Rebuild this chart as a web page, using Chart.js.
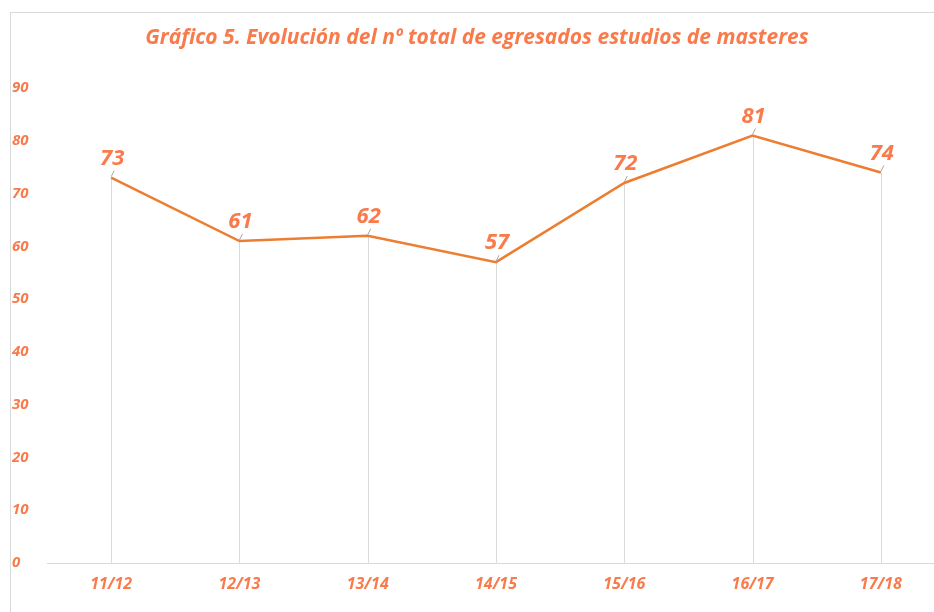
<!DOCTYPE html>
<html>
<head>
<meta charset="utf-8">
<script src="https://cdn.jsdelivr.net/npm/chart.js@4/dist/chart.umd.min.js"></script>
<style>
  html, body { margin: 0; padding: 0; background: #fff; overflow: hidden; }
  #wrap { position: relative; width: 934px; height: 612px; overflow: hidden; }
  #frame { position: absolute; left: 10px; top: 12px; width: 960px; height: 640px; border: 1px solid #d9d9d9; box-sizing: border-box; }
  #c { position: absolute; left: 0; top: 0; }
</style>
</head>
<body>
<div id="wrap">
  <div id="frame"></div>
  <canvas id="c" width="950" height="612"></canvas>
</div>
<script>
var titleText = 'Gráfico 5. Evolución del nº total de egresados estudios de masteres';
var cursos = ['11/12', '12/13', '13/14', '14/15', '15/16', '16/17', '17/18'];
var egresados = [73, 61, 62, 57, 72, 81, 74];
var yMin = 0;
var yMax = 90;
var yStep = 10;

var lineColor = '#ED7D31';
var textColor = '#F97A4A';
var greyLine = '#d9d9d9';
var fontFam = '"Open Sans", "DejaVu Sans", sans-serif';

// lineas verticales desde cada punto hasta el eje
var dropLines = {
  id: 'dropLines',
  beforeDatasetsDraw: function(chart) {
    var ctx = chart.ctx;
    var yScale = chart.scales.y;
    var base = yScale.getPixelForValue(0);
    var meta = chart.getDatasetMeta(0);
    ctx.save();
    ctx.strokeStyle = greyLine;
    ctx.lineWidth = 1;
    meta.data.forEach(function(p) {
      var x = Math.round(p.x) + 0.5;
      ctx.beginPath();
      ctx.moveTo(x, p.y);
      ctx.lineTo(x, base);
      ctx.stroke();
    });
    ctx.restore();
  }
};

// etiquetas de datos con su pequena linea guia
var dataLabels = {
  id: 'dataLabels',
  afterDatasetsDraw: function(chart) {
    var ctx = chart.ctx;
    var meta = chart.getDatasetMeta(0);
    ctx.save();
    meta.data.forEach(function(p, i) {
      ctx.strokeStyle = '#a6a6a6';
      ctx.lineWidth = 1;
      ctx.beginPath();
      ctx.moveTo(p.x, p.y - 1);
      ctx.lineTo(p.x + 3, p.y - 7);
      ctx.stroke();
      ctx.fillStyle = textColor;
      ctx.font = 'italic bold 22px ' + fontFam;
      ctx.textAlign = 'center';
      ctx.textBaseline = 'bottom';
      ctx.fillText(String(egresados[i]), p.x + 1, p.y - 8);
    });
    ctx.restore();
  }
};

// titulo
var titlePlugin = {
  id: 'titlePlugin',
  afterDraw: function(chart) {
    var ctx = chart.ctx;
    ctx.save();
    ctx.fillStyle = textColor;
    ctx.font = 'italic bold 21px ' + fontFam;
    ctx.textAlign = 'center';
    ctx.textBaseline = 'middle';
    ctx.fillText(titleText, 477, 38);
    ctx.restore();
  }
};

var ctx = document.getElementById('c').getContext('2d');
new Chart(ctx, {
  type: 'line',
  data: {
    labels: cursos,
    datasets: [{
      label: 'Egresados',
      data: egresados,
      borderColor: lineColor,
      borderWidth: 2.5,
      pointRadius: 0,
      tension: 0,
      fill: false
    }]
  },
  options: {
    responsive: false,
    animation: false,
    layout: { padding: { top: 88, left: 12, right: 5, bottom: 0 } },
    plugins: {
      legend: { display: false },
      title: { display: false },
      tooltip: { enabled: false }
    },
    scales: {
      x: {
        offset: true,
        grid: { display: false, drawTicks: false },
        border: { display: true, color: greyLine, width: 1 },
        ticks: {
          color: textColor,
          font: { family: fontFam, size: 16, style: 'italic', weight: 'bold' },
          padding: 12
        },
        afterFit: function(s) { s.height = 49; }
      },
      y: {
        min: yMin,
        max: yMax,
        grid: { display: false, drawTicks: false },
        border: { display: false },
        ticks: {
          stepSize: yStep,
          color: textColor,
          crossAlign: 'far',
          padding: 0,
          font: { family: fontFam, size: 15, style: 'italic', weight: 'bold' }
        },
        afterFit: function(s) { s.width = 35; }
      }
    }
  },
  plugins: [dropLines, dataLabels, titlePlugin]
});
</script>
</body>
</html>
